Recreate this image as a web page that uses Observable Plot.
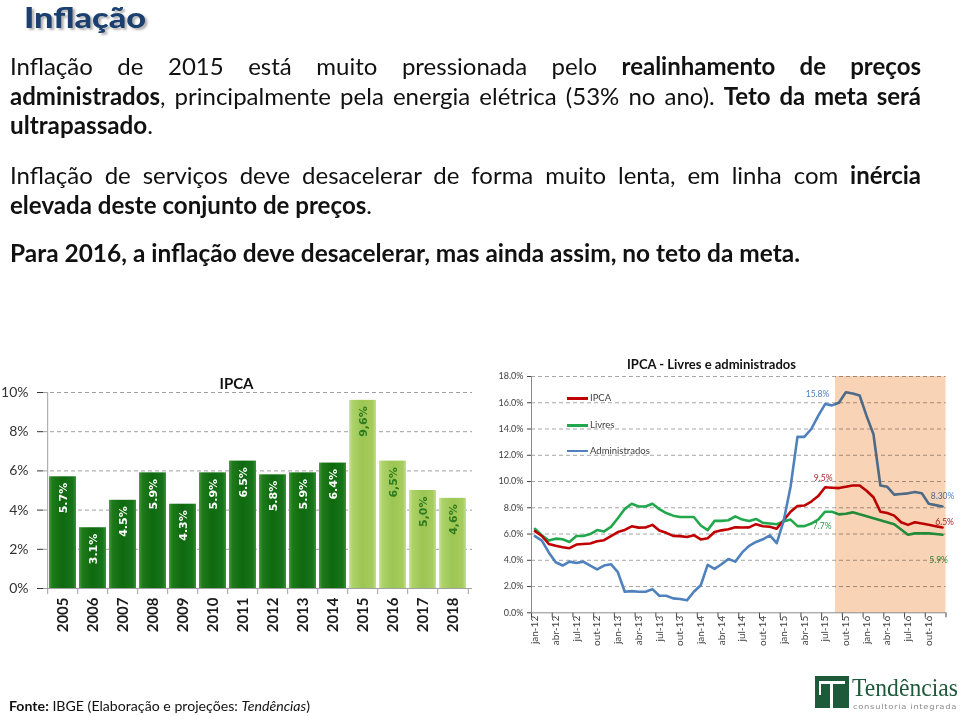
<!DOCTYPE html>
<html lang="pt"><head><meta charset="utf-8">
<script src="https://cdn.jsdelivr.net/npm/d3@7"></script>
<script src="https://cdn.jsdelivr.net/npm/@observablehq/plot@0.6"></script>
<style>
html,body{margin:0;padding:0;background:#fff;}
#page{position:relative;width:960px;height:716px;overflow:hidden;font-family:Lato,"Open Sans",sans-serif;color:#111;}
.abs{position:absolute;white-space:nowrap;transform-origin:0 0;}
.ln{font-size:24px;line-height:30px;left:10px;}
b{font-weight:700;}
#title{left:24px;top:0px;font-size:28px;line-height:34px;font-weight:900;color:#1b3f6e;text-shadow:2px 2px 2px rgba(0,0,0,.3);}
.leg{position:absolute;font-size:9.5px;line-height:12px;color:#404040;white-space:nowrap;}
.legline{position:absolute;height:2.5px;width:21px;}
.ctitle{position:absolute;font-weight:700;white-space:nowrap;color:#111;transform:translate(-50%,-50%);}
#barwrap{position:absolute;left:0;top:370px;width:480px;height:262px;}
#linewrap{position:absolute;left:480px;top:350px;width:480px;height:300px;}
#foot{left:9px;top:697px;font-size:14px;line-height:17px;}
</style></head>
<body><div id="page">
<div id="title" class="abs">Inflação</div>
<div class="abs ln" data-w="911" data-j="1" style="top:50.7px">Inflação de 2015 está muito pressionada pelo <b>realinhamento de preços</b></div>
<div class="abs ln" data-w="911" data-j="1" style="top:80.7px"><b>administrados</b>, principalmente pela energia elétrica (53% no ano). <b>Teto da meta será</b></div>
<div class="abs ln" data-w="143" style="top:109.7px"><b>ultrapassado</b>.</div>
<div class="abs ln" data-w="911" data-j="1" style="top:159.7px">Inflação de serviços deve desacelerar de forma muito lenta, em linha com <b>inércia</b></div>
<div class="abs ln" data-w="362" style="top:189.7px"><b>elevada deste conjunto de preços</b>.</div>
<div class="abs ln" data-w="790" style="top:237.7px"><b>Para 2016, a inflação deve desacelerar, mas ainda assim, no teto da meta.</b></div>

<div id="barwrap"></div>
<div id="linewrap"></div>
<div class="ctitle" style="left:236.5px;top:383px;font-size:15px;">IPCA</div>
<div class="ctitle" style="left:711.5px;top:364px;font-size:13px;">IPCA - Livres e administrados</div>

<div class="legline" style="left:567px;top:397px;background:#c00000"></div>
<div class="leg" style="left:590px;top:392px">IPCA</div>
<div class="legline" style="left:567px;top:424px;background:#22a84c"></div>
<div class="leg" style="left:590px;top:419px">Livres</div>
<div class="legline" style="left:567px;top:449.5px;background:#4f81bd"></div>
<div class="leg" style="left:590px;top:444.7px">Administrados</div>

<div id="foot" class="abs" data-w="301"><b>Fonte:</b> IBGE (Elaboração e projeções: <i>Tendências</i>)</div>

<div style="position:absolute;left:815px;top:676px;width:34px;height:32px;background:#1d5a3a;">
  <div style="position:absolute;left:4px;top:5px;width:26px;height:3px;background:#fff"></div>
  <div style="position:absolute;left:15px;top:5px;width:3px;height:27px;background:#fff"></div>
  <div style="position:absolute;left:4px;top:5px;width:2px;height:14px;background:#fff"></div>
</div>
<div id="logo1" class="abs" data-w="106" style="left:852px;top:675px;font-family:'Liberation Serif',serif;font-size:26px;line-height:26px;color:#1d5a3a;">Tendências</div>
<div id="logo2" class="abs" data-w="104" style="left:853px;top:703px;font-family:'DejaVu Sans',sans-serif;font-size:7px;line-height:8px;color:#8a8a8a;letter-spacing:0.6px;">consultoria integrada</div>
</div>

<script>
// ---------------- DATA ----------------
// Bar chart: IPCA annual (%)
const years = [2005, 2006, 2007, 2008, 2009, 2010, 2011, 2012, 2013, 2014, 2015, 2016, 2017, 2018];
const ipcaAnual = [5.7, 3.1, 4.5, 5.9, 4.3, 5.9, 6.5, 5.8, 5.9, 6.4, 9.6, 6.5, 5.0, 4.6];
const firstProjectedYear = 2015;
const barYTicks = [0, 2, 4, 6, 8, 10];

// Line chart: 12-month inflation, jan-12 .. dez-16 (%)
const monthAbbr = ["jan", "fev", "mar", "abr", "mai", "jun", "jul", "ago", "set", "out", "nov", "dez"];
const monthYears = ["12", "13", "14", "15", "16"];
const months = monthYears.flatMap(y => monthAbbr.map(m => `${m}-${y}`));
const ipcaMensal = [
  6.22, 5.85, 5.24, 5.10, 4.99, 4.92, 5.20, 5.24, 5.28, 5.45, 5.53, 5.84,
  6.15, 6.31, 6.59, 6.49, 6.50, 6.70, 6.27, 6.09, 5.86, 5.84, 5.77, 5.91,
  5.59, 5.68, 6.15, 6.28, 6.37, 6.52, 6.50, 6.51, 6.75, 6.59, 6.56, 6.41,
  7.05, 7.70, 8.13, 8.17, 8.47, 8.89, 9.56, 9.53, 9.50, 9.60, 9.70, 9.70,
  9.30, 8.80, 7.70, 7.60, 7.40, 6.90, 6.70, 6.90, 6.80, 6.70, 6.60, 6.50];
const livres = [
  6.40, 5.90, 5.50, 5.65, 5.60, 5.40, 5.85, 5.85, 6.00, 6.30, 6.20, 6.55,
  7.20, 7.90, 8.30, 8.10, 8.10, 8.30, 7.90, 7.60, 7.40, 7.30, 7.30, 7.30,
  6.65, 6.30, 7.00, 7.00, 7.05, 7.35, 7.10, 7.00, 7.15, 6.85, 6.80, 6.75,
  6.95, 7.10, 6.60, 6.60, 6.80, 7.10, 7.70, 7.70, 7.50, 7.55, 7.65, 7.50,
  7.35, 7.20, 7.05, 6.90, 6.75, 6.35, 5.95, 6.05, 6.05, 6.05, 6.00, 5.95];
const administrados = [
  5.84, 5.50, 4.60, 3.85, 3.60, 3.90, 3.80, 3.90, 3.60, 3.30, 3.60, 3.70,
  3.10, 1.60, 1.65, 1.60, 1.60, 1.80, 1.30, 1.30, 1.10, 1.05, 0.95, 1.60,
  2.10, 3.65, 3.35, 3.70, 4.10, 3.90, 4.60, 5.10, 5.40, 5.60, 5.90, 5.30,
  7.00, 9.60, 13.40, 13.40, 14.00, 15.00, 15.90, 15.80, 16.00, 16.80, 16.70, 16.55,
  15.00, 13.60, 9.70, 9.60, 9.00, 9.05, 9.10, 9.20, 9.10, 8.30, 8.20, 8.10];
const seriesNames = ["Livres", "IPCA", "Administrados"];
const projectionStart = "set-15";
const lineYTicks = [0, 2, 4, 6, 8, 10, 12, 14, 16, 18];

// annotations
const annoText = ["15.8%", "9.5%", "7.7%", "8.30%", "6.5%", "5.9%"];
const annoSeries = ["Administrados", "IPCA", "Livres", "Administrados", "IPCA", "Livres"];
const annoMonth = ["ago-15", "jul-15", "jul-15", "dez-16", "dez-16", "dez-16"];

// ---------------- STYLES ----------------
const seriesColor = {IPCA: "#c00000", Livres: "#22a84c", Administrados: "#4f81bd"};
const annoColor = {IPCA: "#a8262a", Livres: "#2f9a48", Administrados: "#4f7fbd"};
const annoOffset = [[-14.5, -11], [-2, -9], [-3, 14.5], [0, -10], [2, -5], [-4, 26]];

// ---------------- BAR CHART ----------------
const barW = 480, barH = 262, bML = 43, bMR = 8, bMT = 22, bMB = 44;
const step = (barW - bML - bMR) / years.length;
const barData = years.map((y, i) => ({year: y, value: ipcaAnual[i], proj: y >= firstProjectedYear}));
const fmtBar = d => (d.proj ? d.value.toFixed(1).replace(".", ",") : d.value.toFixed(1)) + "%";
const gray = "#a0a0a0";

const barChart = Plot.plot({
  width: barW, height: barH, marginLeft: bML, marginRight: bMR, marginTop: bMT, marginBottom: bMB,
  style: {fontFamily: "Lato, sans-serif", fontSize: "14px", color: "#333", background: "transparent", overflow: "visible", maxWidth: "none"},
  x: {type: "band", domain: years, paddingInner: 0.1, paddingOuter: 0.05, axis: null},
  y: {domain: [0, d3.max(barYTicks)], ticks: barYTicks, tickFormat: d => d + "%", tickSize: 6, tickPadding: 9, label: null},
  marks: [
    Plot.ruleY(barYTicks.filter(d => d > 0), {stroke: gray, strokeDasharray: "4,3"}),
    Plot.barY(barData.filter(d => !d.proj), {x: "year", y: "value", fill: "url(#gDark)"}),
    Plot.barY(barData.filter(d => d.proj), {x: "year", y: "value", fill: "url(#gLight)"}),
    Plot.ruleY([0], {stroke: gray}),
    Plot.ruleX([years[0]], {x: d => d, y1: 0, y2: d3.max(barYTicks), dx: -step / 2, stroke: gray}),
    Plot.ruleX(years, {x: d => d, y1: 0, y2: 0, insetTop: 6, dx: -step / 2, stroke: gray}),
    Plot.ruleX([years[years.length - 1]], {x: d => d, y1: 0, y2: 0, insetTop: 6, dx: step / 2, stroke: gray}),
    Plot.text(barData.filter(d => !d.proj), {x: "year", y: "value", text: fmtBar, rotate: -90, textAnchor: "end", lineAnchor: "middle", dy: 6, fill: "#ffffff", fontFamily: "DejaVu Sans, sans-serif", fontWeight: "bold", fontSize: 11}),
    Plot.text(barData.filter(d => d.proj), {x: "year", y: "value", text: fmtBar, rotate: -90, textAnchor: "end", lineAnchor: "middle", dy: 6, fill: "#2e7a1e", fontFamily: "DejaVu Sans, sans-serif", fontWeight: "bold", fontSize: 11}),
    Plot.text(years, {x: d => d, frameAnchor: "bottom", text: d => String(d), rotate: -90, textAnchor: "end", lineAnchor: "middle", dy: 9, fontWeight: "bold", fontSize: 15, fill: "#1a1a1a"})
  ]
});
const defs = d3.select(barChart).insert("defs", ":first-child");
function grad(id, stops) {
  const g = defs.append("linearGradient").attr("id", id).attr("x1", 0).attr("x2", 1).attr("y1", 0).attr("y2", 0);
  stops.forEach(([o, c]) => g.append("stop").attr("offset", o).attr("stop-color", c));
}
grad("gDark", [[0, "#4a9e3e"], [0.12, "#1f7a1c"], [0.5, "#0f6a0f"], [0.88, "#17741a"], [1, "#3b9236"]]);
grad("gLight", [[0, "#cfe59c"], [0.12, "#add26a"], [0.5, "#9cc653"], [0.88, "#a6cc5e"], [1, "#c6df8d"]]);
document.getElementById("barwrap").appendChild(barChart);

// ---------------- LINE CHART ----------------
const lineData = seriesNames.map(s => {
  const vals = s === "IPCA" ? ipcaMensal : s === "Livres" ? livres : administrados;
  return vals.map((v, i) => ({s, i, v}));
});
const valOf = (s, m) => lineData[seriesNames.indexOf(s)][months.indexOf(m)];
const yMax = d3.max(lineYTicks);
const shade = [{x1: months.indexOf(projectionStart) - 0.5, x2: months.length - 0.5, y1: 0, y2: yMax}];
const monthTicks = months.map((label, i) => ({label, i})).filter(d => d.i % 3 === 0);
const lgray = "#a6a6a6";

const lineChart = Plot.plot({
  width: 480, height: 300, marginLeft: 51, marginRight: 14.5, marginTop: 26, marginBottom: 37.7,
  style: {fontFamily: "Lato, sans-serif", fontSize: "9px", color: "#404040", background: "transparent", overflow: "visible", maxWidth: "none"},
  x: {domain: [-0.5, months.length - 0.5], ticks: d3.range(-0.5, months.length, 3), tickFormat: () => "", tickSize: 5, label: null},
  y: {domain: [0, yMax], ticks: lineYTicks, tickFormat: d => d.toFixed(1) + "%", tickSize: 4, tickPadding: 4, label: null},
  marks: [
    Plot.ruleY(lineYTicks.filter(d => d > 0), {stroke: lgray, strokeDasharray: "4,3"}),
    Plot.ruleX([-0.5], {stroke: "#8a8a8a"}),
    Plot.ruleY([0], {stroke: "#8a8a8a"}),
    ...lineData.map(arr => Plot.line(arr, {x: "i", y: "v", stroke: seriesColor[arr[0].s], strokeWidth: 2.6, strokeLinejoin: "round"})),
    ...annoText.map((t, k) => {
      const d = valOf(annoSeries[k], annoMonth[k]);
      return Plot.text([d], {x: "i", y: "v", text: () => t, fill: annoColor[annoSeries[k]], fontSize: 8.5, dx: annoOffset[k][0], dy: annoOffset[k][1]});
    }),
    Plot.rect(shade, {x1: "x1", x2: "x2", y1: "y1", y2: "y2", fill: "#f9d3b6", mixBlendMode: "multiply"}),
    Plot.text(monthTicks, {x: "i", text: "label", frameAnchor: "bottom", rotate: -90, textAnchor: "end", lineAnchor: "middle", dy: 3, fontSize: 10, fill: "#404040"})
  ]
});
d3.select(lineChart).selectAll('g[aria-label="rect"]').style("mix-blend-mode", "multiply");
document.getElementById("linewrap").appendChild(lineChart);

// ---------------- TEXT FITTING ----------------
function fitAll() {
  document.querySelectorAll("[data-w]").forEach(el => {
    el.style.transform = ""; el.style.wordSpacing = "";
    const target = +el.dataset.w;
    const w = el.getBoundingClientRect().width;
    if (el.dataset.j && w < target) {
      const n = (el.textContent.match(/ /g) || []).length;
      el.style.wordSpacing = ((target - w) / n) + "px";
    } else {
      el.style.transform = `scaleX(${target / w})`;
    }
  });
  const t = document.getElementById("title");
  t.style.transform = ""; const tw = t.getBoundingClientRect().width;
  t.style.transform = `scaleX(${122 / tw})`;
}
fitAll();
if (document.fonts && document.fonts.ready) document.fonts.ready.then(fitAll);
</script>
</body></html>
